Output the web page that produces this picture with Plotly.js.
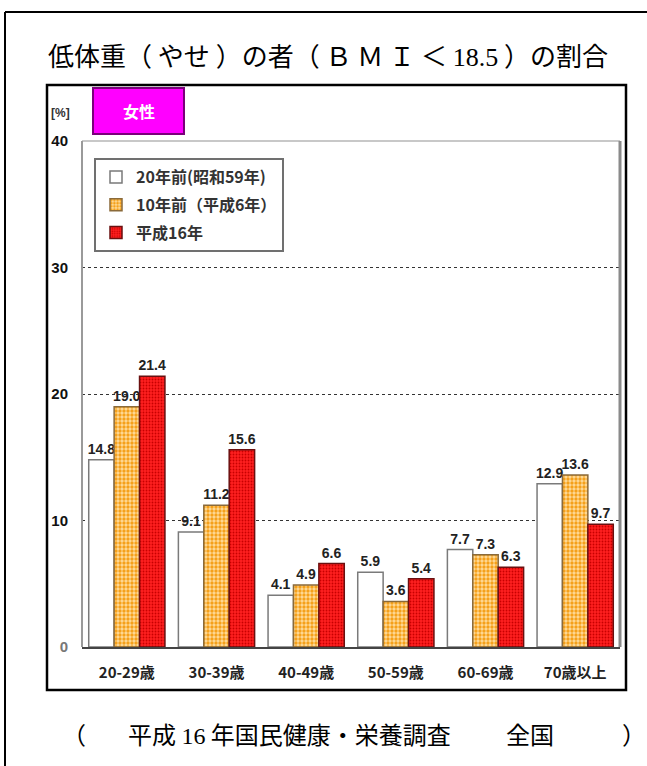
<!DOCTYPE html>
<html>
<head>
<meta charset="utf-8">
<script src="https://cdn.plot.ly/plotly-3.0.1.min.js"></script>
<style>
  html, body { margin: 0; padding: 0; background: #fff; }
  #chart { width: 647px; height: 766px; }
</style>
</head>
<body>
<div id="chart"></div>
<script>
// ---- data ----
var categories = ['20-29歳', '30-39歳', '40-49歳', '50-59歳', '60-69歳', '70歳以上'];
var seriesNames = ['20年前(昭和59年)', '10年前（平成6年）', '平成16年'];
var values20yAgo = [14.8, 9.1, 4.1, 5.9, 7.7, 12.9];
var values10yAgo = [19.0, 11.2, 4.9, 3.6, 7.3, 13.6];
var valuesH16   = [21.4, 15.6, 6.6, 5.4, 6.3, 9.7];
var yTickValues = [0, 10, 20, 30, 40];
var yTickLabels = ['<span style="color:#777">0</span>', '10', '20', '30', '40'];

// ---- layout helpers (pixel -> paper) ----
var W = 647, H = 766;
var L = 82, R = 620, T = 141, B = 647;
function px(x) { return (x - L) / (R - L); }
function py(y) { return (B - y) / (B - T); }

var sansB = 'Liberation Sans, Arial, Noto Sans CJK JP, sans-serif';
var cjk = 'Noto Sans CJK JP, sans-serif';

var labelFont = { family: sansB, size: 14, color: '#222', weight: 'bold' };

function barTrace(name, vals, fill, pattern, lineColor, group) {
  return {
    type: 'bar',
    name: name,
    x: categories,
    y: vals,
    legendgroup: group,
    marker: {
      color: fill,
      pattern: pattern,
      line: { color: lineColor, width: 1.5 }
    },
    text: vals.map(function (v) { return v.toFixed(1); }),
    textposition: 'outside',
    textfont: labelFont,
    constraintext: 'none',
    cliponaxis: false,
    hoverinfo: 'x+y'
  };
}

var traces = [
  barTrace(seriesNames[0], values20yAgo, '#ffffff', { shape: '' }, '#7a7a7a', 'g1'),
  barTrace(seriesNames[1], values10yAgo, '#ffdc9c',
    { shape: '.', fgcolor: '#f5a01a', bgcolor: '#ffdc9c', size: 4, solidity: 0.55 }, '#8a6a3a', 'g2'),
  barTrace(seriesNames[2], valuesH16, '#ff2020',
    { shape: '.', fgcolor: '#c80000', bgcolor: '#ff2020', size: 3, solidity: 0.3 }, '#6a1010', 'g3')
];

var shapes = [
  // outer frame (top + left)
  { type: 'line', xref: 'paper', yref: 'paper', x0: px(5), x1: px(647), y0: py(12), y1: py(12),
    line: { color: '#000', width: 2 } },
  { type: 'line', xref: 'paper', yref: 'paper', x0: px(5), x1: px(5), y0: py(12), y1: py(766),
    line: { color: '#000', width: 2 } },
  // inner chart box
  { type: 'rect', xref: 'paper', yref: 'paper', x0: px(47), x1: px(626), y0: py(85), y1: py(690),
    line: { color: '#000', width: 2.5 }, layer: 'below' },
  // plot area border
  { type: 'line', xref: 'paper', yref: 'paper', x0: 0, x1: 1, y0: 1, y1: 1,
    line: { color: '#c8c8c8', width: 2 } },
  { type: 'line', xref: 'paper', yref: 'paper', x0: 0, x1: 0, y0: 0, y1: 1,
    line: { color: '#9a9a9a', width: 2 } },
  { type: 'line', xref: 'paper', yref: 'paper', x0: 1, x1: 1, y0: 0, y1: 1,
    line: { color: '#8a8a8a', width: 3 } },
  // magenta tag box
  { type: 'rect', xref: 'paper', yref: 'paper', x0: px(93), x1: px(184), y0: py(88), y1: py(134),
    fillcolor: '#ff00ff', line: { color: '#7a007a', width: 2 } }
];

function ann(x, y, text, font, xanchor) {
  return { xref: 'paper', yref: 'paper', x: px(x), y: py(y), text: text, showarrow: false,
    xanchor: xanchor || 'center', yanchor: 'middle', font: font };
}

var footFont = { family: cjk, size: 24, color: '#000' };
var annotations = [
  ann(138.5, 111, '女性', { family: cjk, size: 16, color: '#ffffff', weight: 'bold' }),
  ann(60, 113, '[%]', { family: sansB, size: 12, color: '#333', weight: 'bold' }),
  // footer
  ann(74, 733, '（', footFont),
  ann(126, 733, '平成 <span style="font-family:Liberation Serif">16</span> 年国民健康・栄養調査', footFont, 'left'),
  ann(504, 733, '全国', footFont, 'left'),
  ann(634, 733, '）', footFont)
];

var layout = {
  width: W, height: H,
  margin: { l: L, r: W - R, t: T, b: H - B, pad: 0 },
  paper_bgcolor: '#ffffff',
  plot_bgcolor: '#ffffff',
  title: {
    text: '低体重（ やせ ）の者（ Ｂ Ｍ Ｉ ＜ <span style="font-family:Liberation Serif">18.5</span> ）の割合',
    x: 48 / W, xanchor: 'left', xref: 'container',
    y: 1 - 57 / H, yanchor: 'middle', yref: 'container',
    font: { family: cjk, size: 26, color: '#000' }
  },
  barmode: 'group',
  bargap: 0.15,
  bargroupgap: 0,
  showlegend: true,
  legend: {
    x: px(94), y: py(158), xanchor: 'left', yanchor: 'top',
    bgcolor: '#ffffff', bordercolor: '#707070', borderwidth: 2,
    font: { family: cjk, size: 16, color: '#333', weight: 'bold' },
    traceorder: 'grouped', tracegroupgap: 4,
    itemclick: false
  },
  xaxis: {
    type: 'category',
    showline: true, linecolor: '#444', linewidth: 2,
    showgrid: false, zeroline: false,
    ticks: 'outside', ticklen: 11, tickcolor: 'rgba(0,0,0,0)',
    tickfont: { family: cjk, size: 15, color: '#222', weight: 'bold' }
  },
  yaxis: {
    range: [0, 40],
    tickmode: 'array', tickvals: yTickValues, ticktext: yTickLabels,
    showline: false, zeroline: false,
    showgrid: true, gridcolor: '#333', gridwidth: 1, griddash: 'dot',
    ticks: 'outside', ticklen: 10, tickcolor: 'rgba(0,0,0,0)',
    tickfont: { family: sansB, size: 15, color: '#111', weight: 'bold' }
  },
  shapes: shapes,
  annotations: annotations
};

Plotly.newPlot('chart', traces, layout, { displayModeBar: false, staticPlot: true });
</script>
</body>
</html>
